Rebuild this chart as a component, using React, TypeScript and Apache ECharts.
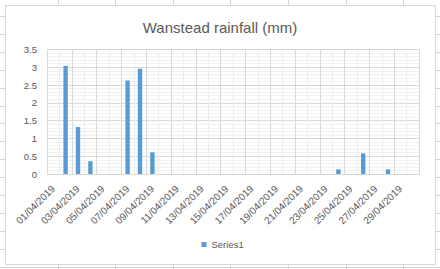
import React, { useEffect, useRef } from "react";
import * as echarts from "echarts";

const categories: string[] = [
  "01/04/2019", "02/04/2019", "03/04/2019", "04/04/2019", "05/04/2019",
  "06/04/2019", "07/04/2019", "08/04/2019", "09/04/2019", "10/04/2019",
  "11/04/2019", "12/04/2019", "13/04/2019", "14/04/2019", "15/04/2019",
  "16/04/2019", "17/04/2019", "18/04/2019", "19/04/2019", "20/04/2019",
  "21/04/2019", "22/04/2019", "23/04/2019", "24/04/2019", "25/04/2019",
  "26/04/2019", "27/04/2019", "28/04/2019", "29/04/2019", "30/04/2019",
];

const rainfall: number[] = [
  0, 3.04, 1.32, 0.36, 0, 0, 2.63, 2.96, 0.61, 0,
  0, 0, 0, 0, 0, 0, 0, 0, 0, 0,
  0, 0, 0, 0.13, 0, 0.58, 0, 0.13, 0, 0,
];

const seriesName = "Series1";
const titleText = "Wanstead rainfall (mm)";

const W = 440;
const H = 269;

function sheetGrid(): any[] {
  const els: any[] = [];
  for (let x = 57.6; x < W; x += 57.6) {
    const xx = Math.round(x) + 0.5;
    els.push({
      type: "line",
      z: -20,
      silent: true,
      shape: { x1: xx, y1: 0, x2: xx, y2: H },
      style: { stroke: "#d4d4d4", lineWidth: 1 },
    });
  }
  for (let y = 16; y < H; y += 17.9) {
    const yy = Math.round(y) + 0.5;
    els.push({
      type: "line",
      z: -20,
      silent: true,
      shape: { x1: 0, y1: yy, x2: W, y2: yy },
      style: { stroke: "#d4d4d4", lineWidth: 1 },
    });
  }
  els.push({
    type: "rect",
    z: -10,
    silent: true,
    shape: { x: 5.5, y: 5.5, width: 430, height: 259 },
    style: { fill: "#ffffff", stroke: "#d9d9d9", lineWidth: 1 },
  });
  return els;
}

export default function App() {
  const ref = useRef<HTMLDivElement>(null);

  useEffect(() => {
    document.body.style.margin = "0";
    if (!ref.current) return;
    const chart = echarts.init(ref.current, undefined, { renderer: "svg" });
    const font = "'Liberation Sans', Arial, sans-serif";
    chart.setOption({
      animation: false,
      backgroundColor: "#ffffff",
      textStyle: { fontFamily: font },
      graphic: sheetGrid(),
      title: {
        text: titleText,
        left: "center",
        top: 15,
        textStyle: {
          fontFamily: font,
          fontSize: 15,
          fontWeight: "normal",
          color: "#595959",
        },
      },
      legend: {
        data: [seriesName],
        left: 201.5,
        top: 239.5,
        padding: 0,
        icon: "rect",
        itemWidth: 5,
        itemHeight: 5,
        textStyle: { fontFamily: font, fontSize: 9.5, color: "#595959" },
      },
      grid: {
        left: 47,
        right: 21,
        top: 49.5,
        bottom: 95,
        containLabel: false,
      },
      xAxis: {
        type: "category",
        data: categories,
        boundaryGap: true,
        axisLine: { show: true, lineStyle: { color: "#d9d9d9", width: 1 } },
        axisTick: { show: false },
        axisLabel: {
          interval: 1,
          rotate: 45,
          margin: 13,
          fontFamily: font,
          fontSize: 10,
          color: "#595959",
        },
        splitLine: {
          show: true,
          interval: 0,
          lineStyle: { color: ["#d9d9d9", "#eeeeee"], width: 1 },
        },
      },
      yAxis: {
        type: "value",
        min: 0,
        max: 3.5,
        interval: 0.5,
        axisLine: { show: false },
        axisTick: { show: false },
        axisLabel: {
          margin: 10,
          fontFamily: font,
          fontSize: 9.6,
          color: "#595959",
        },
        splitLine: { show: true, lineStyle: { color: "#d9d9d9", width: 1 } },
        minorTick: { show: false, splitNumber: 5 },
        minorSplitLine: { show: true, lineStyle: { color: "#f2f2f2", width: 1 } },
      },
      series: [
        {
          name: seriesName,
          type: "bar",
          data: rainfall,
          barWidth: 4.4,
          itemStyle: { color: "#5b9bd5" },
        },
      ],
    });
    return () => chart.dispose();
  }, []);

  return (
    <div
      ref={ref}
      style={{ position: "absolute", left: 0, top: 0, width: W, height: H }}
    />
  );
}
